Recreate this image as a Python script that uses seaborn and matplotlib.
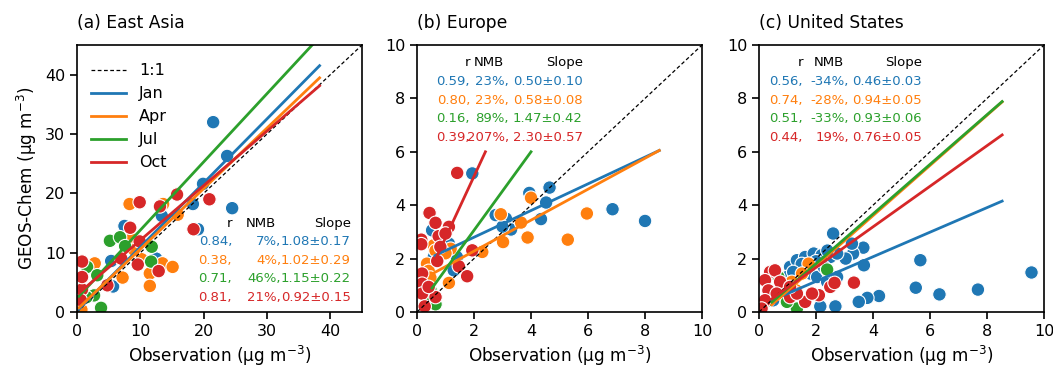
import numpy as np
import pandas as pd
import matplotlib
matplotlib.use('Agg')
import matplotlib.pyplot as plt
import seaborn as sns

months = ['Jan', 'Apr', 'Jul', 'Oct']
colors = ['#1f77b4', '#ff7f0e', '#2ca02c', '#d62728']

# (observation, GEOS-Chem) pairs
ea_jan = [(21.5, 32.0), (23.7, 26.3), (24.5, 17.5), (19.9, 21.6), (18.3, 18.2), (19.1, 13.95),
          (13.4, 16.2), (7.5, 14.5), (5.4, 8.6), (5.7, 4.3), (12.5, 9.0), (0.6, 0.3), (9.0, 10.5)]
ea_apr = [(8.3, 18.2), (13.6, 18.2), (15.9, 16.4), (8.6, 12.3), (10.2, 8.9), (13.5, 8.2),
          (11.5, 6.5), (11.5, 4.4), (15.1, 7.6), (7.2, 5.8), (2.8, 8.2), (0.7, 0.4), (9.0, 10.5)]
ea_jul = [(5.2, 12.0), (6.8, 12.6), (7.6, 11.1), (11.8, 11.0), (11.7, 8.5), (1.6, 7.6),
          (3.2, 6.2), (3.8, 0.7), (2.7, 2.8), (1.5, 2.5)]
ea_oct = [(9.9, 18.5), (15.8, 19.8), (13.1, 17.8), (8.4, 14.2), (20.9, 19.0), (18.4, 13.95),
          (9.9, 11.9), (7.0, 9.0), (9.6, 8.0), (12.9, 6.9), (4.8, 4.5), (0.8, 3.8), (0.8, 5.9),
          (0.8, 8.5), (0.6, 2.0)]

eu_jan = [(1.94, 5.19), (8.0, 3.41), (6.86, 3.85), (3.94, 4.46), (4.65, 4.66), (4.53, 4.1),
          (4.35, 3.48), (2.76, 3.63), (3.12, 3.5), (3.3, 3.09), (3.0, 3.2), (0.53, 3.06),
          (1.12, 2.56), (1.29, 1.56), (1.4, 2.06), (0.59, 2.06), (0.8, 2.8)]
eu_apr = [(5.29, 2.71), (5.96, 3.69), (4.0, 4.28), (3.88, 2.79), (3.65, 3.35), (2.94, 3.66),
          (3.02, 2.62), (2.29, 2.25), (1.12, 1.09), (0.35, 1.81), (0.59, 2.5), (0.65, 2.3),
          (0.24, 0.9), (1.18, 2.37), (1.0, 2.2), (0.41, 1.54), (0.47, 1.29)]
eu_jul = [(0.65, 0.29), (0.47, 0.84), (0.3, 0.6)]
eu_oct = [(1.41, 5.21), (0.44, 3.71), (0.65, 3.34), (1.12, 3.19), (0.76, 2.84), (0.15, 2.71),
          (0.15, 2.54), (0.71, 1.91), (1.94, 2.31), (1.47, 1.71), (1.76, 1.34), (0.18, 1.44),
          (0.18, 1.06), (0.18, 0.69), (0.27, 0.21), (0.65, 0.56), (0.41, 0.94), (1.0, 2.94),
          (0.82, 2.44)]

us_jan = [(9.56, 1.48), (7.68, 0.84), (6.33, 0.66), (5.66, 1.94), (5.5, 0.91), (4.21, 0.6),
          (3.8, 0.53), (3.5, 0.38), (3.68, 1.75), (3.66, 2.41), (3.3, 2.19), (3.26, 2.56),
          (2.6, 2.94), (3.04, 2.0), (2.68, 0.21), (2.15, 0.21), (1.09, 1.69), (1.33, 1.94),
          (1.62, 2.06), (1.92, 2.19), (2.2, 2.13), (2.5, 2.06), (2.74, 2.19), (1.8, 1.44),
          (2.04, 1.31), (1.45, 1.44), (0.98, 1.31), (2.27, 1.69), (2.39, 1.13), (2.74, 1.31),
          (0.74, 0.81), (0.5, 0.44), (1.5, 1.8), (2.0, 1.9), (2.4, 2.3), (1.2, 1.5)]
us_apr = [(1.74, 1.81), (1.51, 1.44), (1.15, 1.13), (1.3, 0.81), (2.39, 1.56), (0.86, 0.69)]
us_jul = [(2.39, 1.59), (0.68, 1.31), (1.33, 0.13), (0.33, 0.44), (0.98, 0.38)]
us_oct = [(3.33, 1.1), (2.5, 0.94), (2.1, 0.63), (0.39, 1.5), (0.56, 1.56), (0.21, 1.19),
          (0.74, 1.13), (0.33, 0.81), (1.09, 0.56), (1.62, 0.38), (0.21, 0.44), (0.09, 0.13),
          (0.62, 0.69), (1.86, 0.69), (1.33, 0.69), (1.09, 0.94), (2.65, 1.09)]

# fitted lines: slope, intercept, x start, x end
ea_fit = [(1.08, 0.15, 0.3, 38.3), (1.02, 0.4, 0.3, 38.3), (1.15, 2.3, 0.3, 38.3), (0.92, 2.9, 0.3, 38.3)]
eu_fit = [(0.50, 1.8, 0.63, 8.5), (0.58, 1.12, 0.57, 8.5), (1.47, 0.12, 0.53, 4.0), (2.30, 0.48, 0.63, 2.4)]
us_fit = [(0.46, 0.23, 0.45, 8.53), (0.94, -0.15, 0.45, 8.53), (0.93, -0.05, 0.45, 8.53), (0.76, 0.15, 0.45, 8.53)]

# statistics text
ea_r = ['0.84,', '0.38,', '0.71,', '0.81,']
ea_nmb = ['7%,', '4%,', '46%,', '21%,']
ea_slope = ['1.08±0.17', '1.02±0.29', '1.15±0.22', '0.92±0.15']
eu_r = ['0.59,', '0.80,', '0.16,', '0.39,']
eu_nmb = ['23%,', '23%,', '89%,', '207%,']
eu_slope = ['0.50±0.10', '0.58±0.08', '1.47±0.42', '2.30±0.57']
us_r = ['0.56,', '0.74,', '0.51,', '0.44,']
us_nmb = ['-34%,', '-28%,', '-33%,', '19%,']
us_slope = ['0.46±0.03', '0.94±0.05', '0.93±0.06', '0.76±0.05']


def make_df(groups):
    rows = []
    for m, pts in zip(months, groups):
        for x, y in pts:
            rows.append((x, y, m))
    return pd.DataFrame(rows, columns=['obs', 'model', 'month'])


panels = [
    ('(a) East Asia', make_df([ea_jan, ea_apr, ea_jul, ea_oct]), ea_fit, ea_r, ea_nmb, ea_slope, 45,
     [0, 10, 20, 30, 40]),
    ('(b) Europe', make_df([eu_jan, eu_apr, eu_jul, eu_oct]), eu_fit, eu_r, eu_nmb, eu_slope, 10,
     [0, 2, 4, 6, 8, 10]),
    ('(c) United States', make_df([us_jan, us_apr, us_jul, us_oct]), us_fit, us_r, us_nmb, us_slope, 10,
     [0, 2, 4, 6, 8, 10]),
]

# text column positions (axes fraction): r end, NMB end, Slope end, header y, row step
text_pos = [(0.544, 0.716, 0.961, 0.333, 0.0695),
            (0.186, 0.323, 0.582, 0.933, 0.0695),
            (0.154, 0.316, 0.572, 0.933, 0.0695)]

plt.rcParams['axes.linewidth'] = 1.2
fig = plt.figure(figsize=(10.53, 3.71), dpi=100)
lefts = [0.0731, 0.396, 0.7208]

for i, (title, df, fits, rr, nmb, slp, lim, ticks) in enumerate(panels):
    ax = fig.add_axes([lefts[i], 0.159, 0.2707, 0.7197])
    ax.plot([0, lim], [0, lim], color='k', ls=(0, (3, 2)), lw=0.9, label='1:1')
    sns.scatterplot(data=df, x='obs', y='model', hue='month', hue_order=months,
                    palette=colors, s=95, edgecolor='white', linewidth=0.8,
                    legend=False, ax=ax, zorder=1)
    for (k, b, x0, x1), c, m in zip(fits, colors, months):
        xs = np.array([x0, x1])
        ax.plot(xs, k * xs + b, color=c, lw=2, label=m)
    ax.set_xlim(0, lim)
    ax.set_ylim(0, lim)
    ax.set_xticks(ticks)
    ax.set_yticks(ticks)
    ax.tick_params(labelsize=11.5, length=5, width=1.2)
    ax.set_xlabel('Observation (μg m$^{-3}$)', fontsize=12.2)
    if i == 0:
        ax.set_ylabel('GEOS-Chem (μg m$^{-3}$)', fontsize=12.2)
        ax.legend(loc='upper left', frameon=False, fontsize=11.5, handlelength=2.2,
                  bbox_to_anchor=(0.0, 0.985))
    else:
        ax.set_ylabel('')
    ax.set_title(title, loc='left', fontsize=12.3, pad=12)

    c1, c2, c3, y0, dy = text_pos[i]
    kw = dict(transform=ax.transAxes, fontsize=9.5, ha='right', va='center')
    ax.text(c1, y0, 'r', **kw)
    ax.text(c2 - 0.07, y0, 'NMB', transform=ax.transAxes, fontsize=9.5, ha='center', va='center')
    ax.text(c3, y0, 'Slope', **kw)
    for j in range(4):
        y = y0 - dy * (j + 1)
        ax.text(c1, y, rr[j], color=colors[j], **kw)
        ax.text(c2, y, nmb[j], color=colors[j], **kw)
        ax.text(c3, y, slp[j], color=colors[j], **kw)

plt.savefig('out.png', dpi=100)
